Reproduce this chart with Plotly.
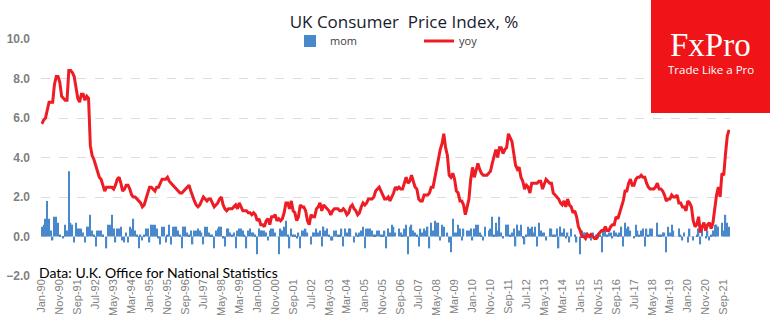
import pandas as pd
import plotly.graph_objects as go

# ---------------- data ----------------
months = pd.date_range("1990-01-01", periods=384, freq="MS").strftime("%b-%y").tolist()

yoy = [
    5.7, 5.9, 6.0, 6.5, 6.8, 6.8, 6.8, 7.7, 8.1, 8.1, 7.8, 7.1,   # 1990
    7.0, 6.9, 6.9, 8.4, 8.4, 8.3, 8.1, 7.5, 7.0, 6.8, 7.2, 7.2,   # 1991
    6.9, 7.1, 7.0, 4.6, 4.1, 3.9, 3.6, 3.2, 3.0, 2.9, 2.6, 2.3,   # 1992
    2.5, 2.5, 2.5, 2.5, 2.4, 2.6, 2.9, 3.0, 2.7, 2.3, 2.4, 2.6,   # 1993
    2.6, 2.4, 2.1, 2.0, 2.0, 1.9, 1.8, 1.7, 1.5, 1.6, 1.9, 2.2,   # 1994
    2.5, 2.5, 2.4, 2.3, 2.5, 2.5, 2.7, 2.9, 2.9, 2.9, 3.0, 2.8,   # 1995
    2.7, 2.6, 2.5, 2.4, 2.3, 2.2, 2.2, 2.3, 2.4, 2.5, 2.6, 2.3,   # 1996
    2.0, 1.8, 1.6, 1.5, 1.6, 1.8, 2.0, 1.9, 1.8, 1.9, 1.9, 1.7,   # 1997
    1.5, 1.6, 1.7, 1.9, 2.0, 1.6, 1.4, 1.3, 1.4, 1.4, 1.4, 1.5,   # 1998
    1.6, 1.4, 1.7, 1.5, 1.3, 1.3, 1.3, 1.2, 1.2, 1.1, 1.2, 1.1,   # 1999
    0.8, 0.9, 0.6, 0.6, 0.5, 0.8, 0.9, 0.6, 1.0, 1.0, 1.1, 0.8,   # 2000
    0.9, 0.8, 0.9, 1.2, 1.7, 1.7, 1.4, 1.8, 1.3, 1.2, 0.8, 1.0,   # 2001
    1.6, 1.5, 1.5, 1.3, 0.8, 0.6, 1.1, 1.0, 1.0, 1.4, 1.5, 1.7,   # 2002
    1.3, 1.6, 1.5, 1.4, 1.3, 1.1, 1.3, 1.4, 1.4, 1.4, 1.3, 1.3,   # 2003
    1.4, 1.3, 1.1, 1.2, 1.5, 1.6, 1.4, 1.3, 1.1, 1.2, 1.5, 1.7,   # 2004
    1.6, 1.7, 1.9, 1.9, 1.9, 2.0, 2.3, 2.4, 2.5, 2.3, 2.1, 1.9,   # 2005
    1.9, 2.0, 1.8, 2.0, 2.2, 2.5, 2.4, 2.5, 2.4, 2.4, 2.7, 3.0,   # 2006
    2.7, 2.8, 3.1, 2.8, 2.5, 2.4, 1.9, 1.8, 1.8, 2.1, 2.1, 2.1,   # 2007
    2.2, 2.5, 2.5, 3.0, 3.3, 3.8, 4.4, 4.7, 5.2, 4.5, 4.1, 3.1,   # 2008
    3.0, 3.2, 2.9, 2.3, 2.2, 1.8, 1.8, 1.6, 1.1, 1.5, 1.9, 2.9,   # 2009
    3.5, 3.0, 3.4, 3.7, 3.4, 3.2, 3.1, 3.1, 3.1, 3.2, 3.3, 3.7,   # 2010
    4.0, 4.4, 4.0, 4.5, 4.5, 4.2, 4.4, 4.5, 5.2, 5.0, 4.8, 4.2,   # 2011
    3.6, 3.4, 3.5, 3.0, 2.8, 2.4, 2.6, 2.5, 2.2, 2.7, 2.7, 2.7,   # 2012
    2.7, 2.8, 2.8, 2.4, 2.7, 2.9, 2.8, 2.7, 2.7, 2.2, 2.1, 2.0,   # 2013
    1.9, 1.7, 1.6, 1.8, 1.5, 1.9, 1.6, 1.5, 1.2, 1.3, 1.0, 0.5,   # 2014
    0.3, 0.0, 0.0, -0.1, 0.1, 0.0, 0.1, 0.0, -0.1, -0.1, 0.1, 0.2,  # 2015
    0.3, 0.3, 0.5, 0.3, 0.3, 0.5, 0.6, 0.6, 1.0, 0.9, 1.2, 1.6,   # 2016
    1.8, 2.3, 2.3, 2.7, 2.9, 2.6, 2.6, 2.9, 3.0, 3.0, 3.1, 3.0,   # 2017
    3.0, 2.7, 2.5, 2.4, 2.4, 2.4, 2.5, 2.7, 2.4, 2.4, 2.3, 2.1,   # 2018
    1.8, 1.9, 1.9, 2.1, 2.0, 2.0, 2.1, 1.7, 1.7, 1.5, 1.5, 1.3,   # 2019
    1.8, 1.7, 1.5, 0.8, 0.5, 0.6, 1.0, 0.2, 0.5, 0.7, 0.3, 0.6,   # 2020
    0.7, 0.4, 0.7, 1.5, 2.1, 2.5, 2.0, 3.2, 3.1, 4.2, 5.1, 5.4,   # 2021
]

mom = [
    0.5, 0.6, 0.9, 1.8, 0.9, 0.3, -0.2, 1.0, 1.0, 0.7, 0.1, 0.0,   # 1990
    -0.1, 0.6, 0.3, 3.3, 0.7, 0.6, -0.3, 0.7, 0.4, 0.4, 0.4, 0.2,  # 1991
    -0.3, 0.5, 0.5, 1.1, 0.3, 0.1, -0.5, 0.3, 0.3, 0.3, 0.1, 0.0,  # 1992
    -0.6, 0.6, 0.6, 1.1, 0.4, -0.3, 0.4, 0.4, 0.5, -0.2, -0.3, 0.2,  # 1993
    -0.3, 0.5, 0.4, 0.9, 0.3, 0.1, -0.6, 0.1, -0.2, 0.1, 0.4, 0.4,  # 1994
    -0.3, 0.6, 0.6, 0.6, 0.4, -0.1, -0.4, 0.5, 0.5, -0.3, 0.1, 0.6,  # 1995
    -0.4, 0.5, 0.5, 0.5, 0.3, 0.1, -0.6, 0.5, 0.5, 0.2, 0.1, 0.3,  # 1996
    -0.4, 0.3, 0.3, 0.4, 0.3, 0.2, -0.4, 0.5, 0.5, 0.2, 0.1, 0.1,  # 1997
    -0.6, 0.3, 0.4, 0.5, 0.5, -0.1, -0.5, 0.4, 0.4, 0.2, 0.1, 0.2,  # 1998
    -0.6, 0.3, 0.4, 0.4, 0.3, 0.1, -0.6, 0.3, 0.4, 0.2, 0.2, 0.1,  # 1999
    -0.9, 0.4, 0.3, 0.3, 0.3, 0.2, -0.2, 0.3, 0.4, 0.4, 0.2, 0.0,  # 2000
    -0.9, 0.4, 0.3, 0.5, 0.8, 0.1, -0.6, 0.4, 0.1, 0.1, -0.1, 0.2,  # 2001
    -0.6, 0.3, 0.3, 0.4, 0.2, 0.0, -0.4, 0.2, 0.2, 0.4, 0.2, 0.3,  # 2002
    -0.5, 0.5, 0.3, 0.4, 0.1, -0.2, -0.2, 0.3, 0.3, 0.1, 0.1, 0.4,  # 2003
    -0.5, 0.4, 0.2, 0.4, 0.4, 0.0, -0.3, 0.2, 0.1, 0.2, 0.3, 0.5,  # 2004
    -0.6, 0.4, 0.4, 0.4, 0.3, 0.1, 0.1, 0.3, 0.3, 0.1, 0.1, 0.3,  # 2005
    -0.6, 0.4, 0.2, 0.6, 0.5, 0.2, 0.0, 0.4, 0.2, 0.1, 0.4, 0.6,  # 2006
    -0.9, 0.5, 0.6, 0.3, 0.2, 0.1, -0.5, 0.4, 0.2, 0.4, 0.3, 0.5,  # 2007
    -0.6, 0.7, 0.3, 0.8, 0.7, 0.7, -0.2, 0.6, 0.5, 0.0, 0.2, -0.3,  # 2008
    -0.8, 0.9, 0.2, 0.2, 0.6, 0.4, -0.2, 0.4, 0.0, 0.3, 0.3, 0.4,  # 2009
    -0.2, 0.4, 0.6, 0.6, 0.2, 0.1, -0.2, 0.5, 0.0, 0.3, 0.4, 1.0,  # 2010
    0.1, 0.7, 0.3, 1.0, 0.2, -0.1, 0.0, 0.6, 0.6, 0.1, 0.2, 0.4,  # 2011
    -0.5, 0.6, 0.3, 0.6, -0.1, -0.4, 0.1, 0.5, 0.4, 0.5, 0.2, 0.5,  # 2012
    -0.5, 0.7, 0.3, 0.2, 0.2, -0.2, 0.0, 0.4, 0.4, 0.1, 0.1, 0.4,  # 2013
    -0.6, 0.5, 0.2, 0.4, -0.1, 0.2, -0.3, 0.4, 0.0, 0.1, -0.3, 0.0,  # 2014
    -0.9, 0.3, 0.2, 0.2, 0.2, 0.0, -0.2, 0.2, -0.1, 0.1, -0.1, 0.1,  # 2015
    -0.8, 0.3, 0.4, 0.1, 0.2, 0.2, -0.1, 0.3, 0.2, 0.1, 0.2, 0.5,  # 2016
    -0.5, 0.7, 0.4, 0.5, 0.3, 0.0, -0.1, 0.6, 0.3, 0.1, 0.3, 0.4,  # 2017
    -0.5, 0.4, 0.1, 0.4, 0.4, 0.0, 0.0, 0.7, 0.1, 0.1, 0.2, 0.2,  # 2018
    -0.8, 0.5, 0.2, 0.6, 0.3, 0.0, 0.0, 0.4, 0.1, -0.2, 0.2, 0.0,  # 2019
    -0.3, 0.4, 0.0, -0.2, 0.0, 0.1, 0.4, -0.4, 0.4, 0.0, -0.1, 0.3,  # 2020
    -0.2, 0.1, 0.3, 0.6, 0.6, 0.5, 0.0, 0.7, 0.3, 1.1, 0.7, 0.5,  # 2021
]

tick_labels = months[::10]
y_ticks = [-2, 0, 2, 4, 6, 8, 10]

BLUE = "#4a88cc"
RED = "#ee1c25"
GREY = "#7f7f7f"

# plot-area geometry in pixels (for paper conversions)
W, H = 770, 330
L, R, T, B = 41, 40, 39, 54
PW, PH = W - L - R, H - T - B


def px_x(x):
    return (x - L) / PW


def px_y(y):
    return (H - B - y) / PH


fig = go.Figure()
fig.add_trace(go.Bar(x=months, y=mom, name="mom", marker=dict(color=BLUE, line=dict(width=0))))
fig.add_trace(go.Scatter(x=months, y=yoy, name="yoy", mode="lines",
                         line=dict(color=RED, width=3)))

fig.update_layout(
    width=W, height=H,
    margin=dict(l=L, r=R, t=T, b=B, pad=0, autoexpand=False),
    paper_bgcolor="white", plot_bgcolor="white",
    bargap=0.25,
    font=dict(family="Liberation Sans", color=GREY),
    title=dict(text="UK Consumer  Price Index, %", x=404 / W, xanchor="center",
               y=1 - 22 / H, yanchor="middle",
               font=dict(family="Open Sans", size=17, color="#1a1a2e")),
    legend=dict(orientation="h", xref="container", yref="container",
                x=290 / W, xanchor="left", y=1 - 41 / H, yanchor="middle",
                font=dict(family="Open Sans", size=11, color="#404040"),
                bgcolor="rgba(0,0,0,0)", entrywidth=84, entrywidthmode="pixels",
                itemwidth=30),
    xaxis=dict(type="category", tickmode="array", tickvals=tick_labels,
               ticktext=tick_labels, tickangle=-90, showgrid=False, zeroline=False,
               showline=False, ticks="", automargin=False,
               range=[-0.5, len(months) - 0.5],
               tickfont=dict(family="Liberation Sans", size=11, color=GREY)),
    yaxis=dict(range=[-2, 10], tickmode="array", tickvals=y_ticks, tickformat=".1f",
               showgrid=True, gridcolor="#dcdcdc", griddash="dash", gridwidth=1,
               zeroline=False, showline=False, ticks="", automargin=False,
               ticklabelstandoff=10,
               tickfont=dict(family="Liberation Sans", size=12, color=GREY, weight="bold")),
    shapes=[dict(type="rect", xref="paper", yref="paper",
                 x0=px_x(651), x1=px_x(771), y0=px_y(113), y1=px_y(-1),
                 fillcolor="#f01419", line=dict(width=0), layer="above")],
    annotations=[
        dict(text="FxPro", xref="paper", yref="paper", x=px_x(710), y=px_y(45),
             xanchor="center", yanchor="middle", showarrow=False,
             font=dict(family="Liberation Serif", size=33, color="white")),
        dict(text="Trade Like a Pro", xref="paper", yref="paper", x=px_x(710.5), y=px_y(69),
             xanchor="center", yanchor="middle", showarrow=False,
             font=dict(family="Open Sans", size=11.5, color="white")),
        dict(text="Data: U.K. Office for National Statistics", xref="paper", yref="paper",
             x=px_x(37), y=px_y(272), xanchor="left", yanchor="middle", showarrow=False,
             font=dict(family="Lato", size=14, color="black")),
    ],
)

fig.write_html("out.html")
